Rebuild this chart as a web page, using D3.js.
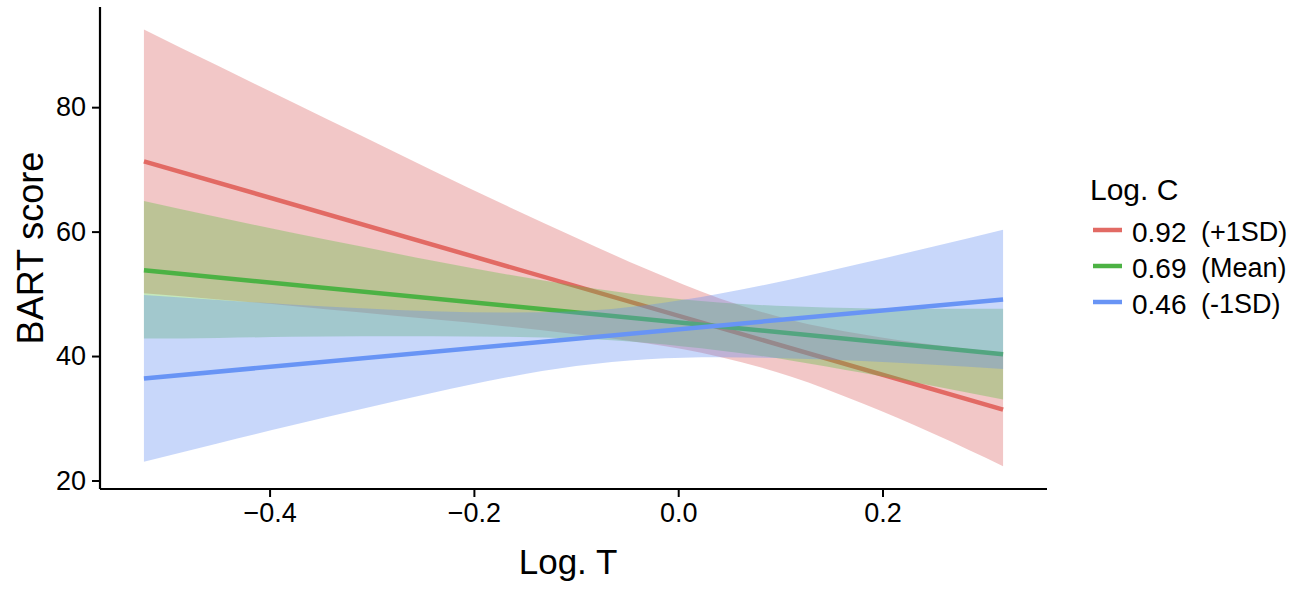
<!DOCTYPE html>
<html>
<head>
<meta charset="utf-8">
<script src="https://cdn.jsdelivr.net/npm/d3@7"></script>
<style>
  html, body { margin: 0; padding: 0; background: #ffffff; }
  svg { display: block; font-family: "Liberation Sans", Arial, Helvetica, sans-serif; }
</style>
</head>
<body>
<svg id="chart" width="1300" height="589"></svg>
<script>
// ---- data ----
const xGrid = [-0.523, -0.45, -0.38, -0.31, -0.24, -0.17, -0.10, -0.03, 0.04, 0.11, 0.18, 0.25, 0.318];

const redLower   = [50.1, 49.1, 48.1, 47.0, 45.9, 44.8, 43.5, 42.0, 39.9, 36.7, 32.4, 27.5, 22.3];
const redUpper   = [92.5, 86.6, 81.0, 75.4, 69.8, 64.3, 59.0, 53.9, 49.3, 45.8, 43.5, 41.8, 40.5];
const greenLower = [42.8, 42.9, 43.1, 43.2, 43.2, 43.1, 42.8, 42.1, 40.9, 39.3, 37.3, 35.2, 33.0];
const greenUpper = [64.9, 62.3, 59.9, 57.6, 55.3, 53.2, 51.3, 49.7, 48.6, 48.0, 47.7, 47.6, 47.6];
const blueLower  = [23.0, 26.0, 28.8, 31.5, 34.1, 36.5, 38.4, 39.5, 39.8, 39.6, 39.2, 38.6, 37.9];
const blueUpper  = [49.8, 49.0, 48.3, 47.7, 47.2, 47.0, 47.2, 48.2, 50.0, 52.3, 54.9, 57.6, 60.3];

const lineX     = [-0.523, 0.318];
const redLine   = [71.3, 31.4];
const greenLine = [53.8, 40.3];
const blueLine  = [36.4, 49.1];

const seriesValues = ["0.92", "0.69", "0.46"];
const seriesNotes  = ["(+1SD)", "(Mean)", "(-1SD)"];
const lineColors   = ["#E26A64", "#4CB244", "#6894F5"];
const fillColors   = ["#DA5F5F", "#58BE3B", "#628DF1"];

const xTicks = [-0.4, -0.2, 0.0, 0.2];
const yTicks = [20, 40, 60, 80];
const xTitle = "Log. T";
const yTitle = "BART score";
const legendTitle = "Log. C";

// ---- build series ----
const series = [
  { lower: redLower,   upper: redUpper,   line: redLine },
  { lower: greenLower, upper: greenUpper, line: greenLine },
  { lower: blueLower,  upper: blueUpper,  line: blueLine }
].map((s, i) => ({
  ...s,
  color: lineColors[i],
  fill: fillColors[i],
  band: xGrid.map((x, j) => ({ x, lo: s.lower[j], hi: s.upper[j] })),
  pts: lineX.map((x, j) => ({ x, y: s.line[j] }))
}));

// ---- scales ----
const x = d3.scaleLinear().domain([-0.566, 0.361]).range([100, 1047]);
const y = d3.scaleLinear().domain([18.63, 96.1]).range([489, 7]);

const svg = d3.select("#chart");

const area = d3.area()
  .x(d => x(d.x)).y0(d => y(d.lo)).y1(d => y(d.hi))
  .curve(d3.curveMonotoneX);
const line = d3.line().x(d => x(d.x)).y(d => y(d.y));

// ggplot-like drawing order: ribbon then line, per group
const plot = svg.append("g");
series.forEach(s => {
  plot.append("path").datum(s.band)
    .attr("d", area)
    .attr("fill", s.fill)
    .attr("fill-opacity", 0.35)
    .attr("stroke", "none");
  plot.append("path").datum(s.pts)
    .attr("d", line)
    .attr("fill", "none")
    .attr("stroke", s.color)
    .attr("stroke-width", 4.5);
});

// ---- axes ----
const fmt = d => d3.format(".1f")(d).replace("-", "\u2013");
const xAxis = svg.append("g").attr("transform", "translate(0,489)")
  .call(d3.axisBottom(x).tickValues(xTicks).tickFormat(fmt).tickSizeOuter(0).tickSizeInner(8).tickPadding(6));
const yAxis = svg.append("g").attr("transform", "translate(100,0)")
  .call(d3.axisLeft(y).tickValues(yTicks).tickFormat(d3.format("d")).tickSizeOuter(0).tickSizeInner(8).tickPadding(6));

[xAxis, yAxis].forEach(a => {
  a.select(".domain").remove();
  a.selectAll(".tick line").attr("stroke", "#000").attr("stroke-width", 2);
  a.selectAll(".tick text").attr("fill", "#000").attr("font-size", 27)
    .attr("font-family", "'Liberation Sans', Arial, Helvetica, sans-serif");
});

// axis lines
svg.append("line").attr("x1", 100).attr("x2", 100).attr("y1", y(96.1)).attr("y2", 489)
  .attr("stroke", "#000").attr("stroke-width", 2.2);
svg.append("line").attr("x1", 100).attr("x2", x(0.361)).attr("y1", 489).attr("y2", 489)
  .attr("stroke", "#000").attr("stroke-width", 2.2);

// axis titles
svg.append("text").attr("x", 568).attr("y", 574).attr("text-anchor", "middle")
  .attr("font-size", 35).attr("fill", "#000").text(xTitle);
svg.append("text").attr("transform", "translate(43,248) rotate(-90)").attr("text-anchor", "middle")
  .attr("font-size", 36).attr("fill", "#000").text(yTitle);

// ---- legend ----
const lg = svg.append("g");
lg.append("text").attr("x", 1090).attr("y", 200).attr("font-size", 30).attr("fill", "#000").text(legendTitle);
seriesValues.forEach((v, i) => {
  const cy = 230 + i * 36;
  lg.append("line").attr("x1", 1093).attr("x2", 1122).attr("y1", cy).attr("y2", cy)
    .attr("stroke", lineColors[i]).attr("stroke-width", 4.5);
  lg.append("text").attr("x", 1132).attr("y", cy + 12).attr("font-size", 28).attr("fill", "#000").text(v);
  lg.append("text").attr("x", 1201).attr("y", cy + 11).attr("font-size", 27).attr("fill", "#000").text(seriesNotes[i]);
});
</script>
</body>
</html>
